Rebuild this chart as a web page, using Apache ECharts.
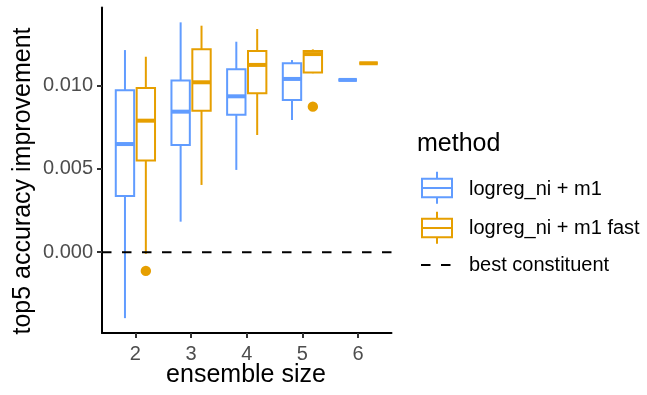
<!DOCTYPE html>
<html>
<head>
<meta charset="utf-8">
<script src="https://cdn.jsdelivr.net/npm/echarts@6/dist/echarts.min.js"></script>
<style>
html, body { margin: 0; padding: 0; background: #fff; }
#chart { width: 647px; height: 395px; }
</style>
</head>
<body>
<div id="chart"></div>
<script>
// ---- data ----
const categories = [2, 3, 4, 5, 6];
const yTicks = [0, 0.005, 0.010];
const seriesNames = ['logreg_ni + m1', 'logreg_ni + m1 fast', 'best constituent'];

// logreg_ni + m1 : whisker low, Q1, median, Q3, whisker high
const m1Low    = [-0.00395, 0.00183, 0.00493, 0.00792, 0.01032];
const m1Q1     = [ 0.00337, 0.00643, 0.00824, 0.00912, 0.01032];
const m1Median = [ 0.00648, 0.00842, 0.00934, 0.01038, 0.01032];
const m1Q3     = [ 0.00971, 0.01028, 0.01096, 0.01132, 0.01032];
const m1High   = [ 0.01211, 0.01377, 0.01261, 0.01151, 0.01032];
const m1Outliers = [];

// logreg_ni + m1 fast
const fastLow    = [-0.00010, 0.00403, 0.00702, 0.01072, 0.01132];
const fastQ1     = [ 0.00549, 0.00848, 0.00952, 0.01077, 0.01132];
const fastMedian = [ 0.00788, 0.01018, 0.01122, 0.01187, 0.01132];
const fastQ3     = [ 0.00984, 0.01216, 0.01205, 0.01205, 0.01132];
const fastHigh   = [ 0.01171, 0.01357, 0.01337, 0.01215, 0.01132];
const fastOutliers = [[2, -0.00112], [5, 0.00872]];

// best constituent reference level
const baselineValue = 0;

// ---- styling ----
const BLUE = '#619CFF';
const ORANGE = '#E69F00';
const FONT = 'Liberation Sans, Arial, Helvetica, sans-serif';
const X_MIN = 1.4, X_MAX = 6.6;
const Y_MIN = -0.00484, Y_MAX = 0.01466;
const DODGE = 0.1875;
const BOX_W = 0.33;

function boxData(low, q1, med, q3, high) {
  return categories.map((c, i) => [c, low[i], q1[i], med[i], q3[i], high[i]]);
}

function boxRenderer(offset, color) {
  return function (params, api) {
    const x = api.value(0) + offset;
    const low = api.value(1), q1 = api.value(2), med = api.value(3), q3 = api.value(4), high = api.value(5);
    const tl = api.coord([x - BOX_W / 2, q3]);
    const br = api.coord([x + BOX_W / 2, q1]);
    const pm = api.coord([x, med]);
    const pl = api.coord([x, low]);
    const ph = api.coord([x, high]);
    return {
      type: 'group',
      children: [
        { type: 'line', shape: { x1: pm[0], y1: ph[1], x2: pm[0], y2: tl[1] },
          style: { stroke: color, lineWidth: 2 } },
        { type: 'line', shape: { x1: pm[0], y1: br[1], x2: pm[0], y2: pl[1] },
          style: { stroke: color, lineWidth: 2 } },
        { type: 'rect', shape: { x: tl[0], y: tl[1], width: br[0] - tl[0], height: br[1] - tl[1] },
          style: { fill: '#fff', stroke: color, lineWidth: 2 } },
        { type: 'line', shape: { x1: tl[0], y1: pm[1], x2: br[0], y2: pm[1] },
          style: { stroke: color, lineWidth: 4, lineCap: 'butt' } }
      ]
    };
  };
}

function outlierRenderer(offset, color) {
  return function (params, api) {
    const p = api.coord([api.value(0) + offset, api.value(1)]);
    return { type: 'circle', shape: { cx: p[0], cy: p[1], r: 5.2 }, style: { fill: color } };
  };
}

// legend key drawn as a boxplot glyph
function legendBoxKey(top, color) {
  return {
    type: 'group', x: 421, y: top,
    children: [
      { type: 'line', shape: { x1: 16, y1: 0, x2: 16, y2: 7 }, style: { stroke: color, lineWidth: 2 } },
      { type: 'line', shape: { x1: 16, y1: 25.6, x2: 16, y2: 32 }, style: { stroke: color, lineWidth: 2 } },
      { type: 'rect', shape: { x: 1, y: 7, width: 30, height: 18.6 }, style: { fill: '#fff', stroke: color, lineWidth: 2 } },
      { type: 'line', shape: { x1: 1, y1: 16.3, x2: 31, y2: 16.3 }, style: { stroke: color, lineWidth: 2 } }
    ]
  };
}

const legendTextStyle = { fontSize: 20, fontFamily: FONT, fill: '#000', align: 'left', verticalAlign: 'middle' };

const chart = echarts.init(document.getElementById('chart'), null, { renderer: 'canvas' });
chart.setOption({
  animation: false,
  backgroundColor: '#fff',
  grid: { left: 102, right: 255.5, top: 7.5, bottom: 62, containLabel: false },
  xAxis: {
    type: 'value', min: X_MIN, max: X_MAX,
    axisLine: { show: true, onZero: false, lineStyle: { color: '#000', width: 2 } },
    axisTick: { show: true, length: 5, customValues: categories, lineStyle: { color: '#333', width: 2 } },
    axisLabel: { show: true, customValues: categories, margin: 11, color: '#4D4D4D', fontSize: 20, fontFamily: FONT,
      formatter: v => String(Math.round(v)) },
    splitLine: { show: false }
  },
  yAxis: {
    type: 'value', min: Y_MIN, max: Y_MAX,
    axisLine: { show: true, onZero: false, lineStyle: { color: '#000', width: 2 } },
    axisTick: { show: true, length: 5, customValues: yTicks, lineStyle: { color: '#333', width: 2 } },
    axisLabel: { show: true, customValues: yTicks, margin: 9, color: '#4D4D4D', fontSize: 20, fontFamily: FONT,
      formatter: v => v.toFixed(3) },
    splitLine: { show: false }
  },
  graphic: [
    { type: 'text', x: 417, y: 144, style: { text: 'method', fontSize: 25, fontFamily: FONT, fill: '#000', align: 'left', verticalAlign: 'middle' } },
    legendBoxKey(171.7, BLUE),
    { type: 'text', x: 469, y: 189, style: Object.assign({ text: seriesNames[0] }, legendTextStyle) },
    legendBoxKey(211.7, ORANGE),
    { type: 'text', x: 469, y: 228, style: Object.assign({ text: seriesNames[1] }, legendTextStyle) },
    { type: 'line', shape: { x1: 421, y1: 265, x2: 451, y2: 265 },
      style: { stroke: '#000', lineWidth: 2, lineDash: [9.5, 10.5] } },
    { type: 'text', x: 469, y: 265, style: Object.assign({ text: seriesNames[2] }, legendTextStyle) },
    { type: 'text', x: 23, y: 181, rotation: Math.PI / 2,
      style: { text: 'top5 accuracy improvement', fontSize: 25, fontFamily: FONT, fill: '#000', align: 'center', verticalAlign: 'middle' } },
    { type: 'text', x: 246, y: 375,
      style: { text: 'ensemble size', fontSize: 25, fontFamily: FONT, fill: '#000', align: 'center', verticalAlign: 'middle' } }
  ],
  series: [
    { name: seriesNames[0], type: 'custom', itemStyle: { color: BLUE },
      encode: { x: 0, y: [1, 2, 3, 4, 5] },
      data: boxData(m1Low, m1Q1, m1Median, m1Q3, m1High), renderItem: boxRenderer(-DODGE, BLUE), z: 2 },
    { name: seriesNames[1], type: 'custom', itemStyle: { color: ORANGE },
      encode: { x: 0, y: [1, 2, 3, 4, 5] },
      data: boxData(fastLow, fastQ1, fastMedian, fastQ3, fastHigh), renderItem: boxRenderer(DODGE, ORANGE), z: 2 },
    { name: seriesNames[0], type: 'custom', itemStyle: { color: BLUE },
      encode: { x: 0, y: 1 }, data: m1Outliers, renderItem: outlierRenderer(-DODGE, BLUE), z: 3 },
    { name: seriesNames[1], type: 'custom', itemStyle: { color: ORANGE },
      encode: { x: 0, y: 1 }, data: fastOutliers, renderItem: outlierRenderer(DODGE, ORANGE), z: 3 },
    { name: seriesNames[2], type: 'line', symbol: 'none', showSymbol: false, silent: true,
      data: [[X_MIN, baselineValue], [X_MAX, baselineValue]],
      itemStyle: { color: '#000' },
      lineStyle: { color: '#000', width: 2, type: [9.5, 10.5] }, z: 5 }
  ]
});
</script>
</body>
</html>
